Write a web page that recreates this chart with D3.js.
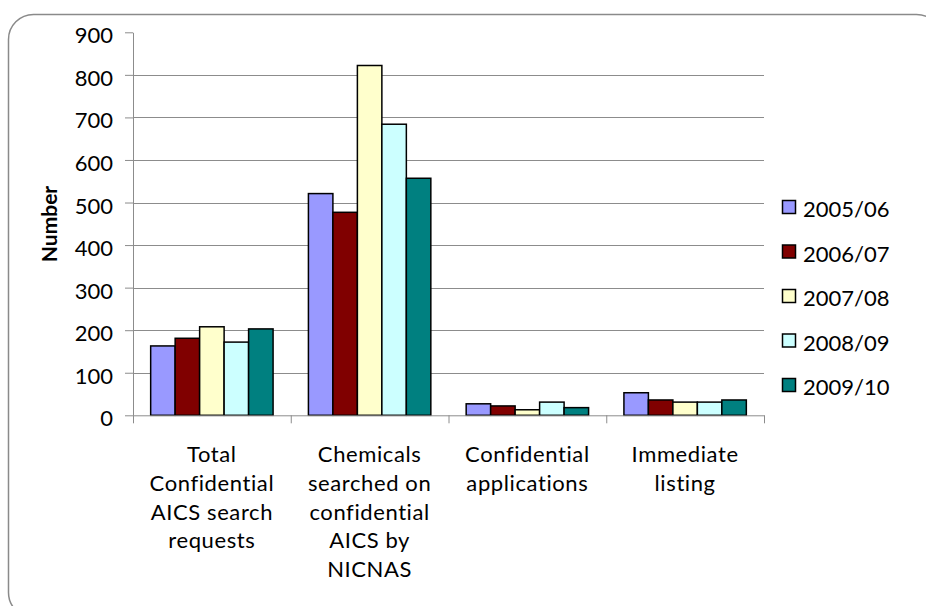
<!DOCTYPE html>
<html>
<head>
<meta charset="utf-8">
<script src="https://cdn.jsdelivr.net/npm/d3@7"></script>
<style>
  html, body { margin: 0; padding: 0; background: #fff; }
  svg { display: block; font-family: Lato, "Open Sans", sans-serif; }
</style>
</head>
<body>
<svg id="chart" width="926" height="606"></svg>
<script>
const categories = [
  ["Total", "Confidential", "AICS search", "requests"],
  ["Chemicals", "searched on", "confidential", "AICS by", "NICNAS"],
  ["Confidential", "applications"],
  ["Immediate", "listing"]
];
const seriesNames = ["2005/06", "2006/07", "2007/08", "2008/09", "2009/10"];
const seriesColors = ["#9999FF", "#800000", "#FFFFCC", "#CCFFFF", "#008080"];
const s2005 = [163, 521, 27, 53];
const s2006 = [181, 477, 22, 36];
const s2007 = [208, 822, 13, 31];
const s2008 = [172, 684, 31, 31];
const s2009 = [203, 557, 18, 36];
const yTicks = [0, 100, 200, 300, 400, 500, 600, 700, 800, 900];

const seriesValues = [s2005, s2006, s2007, s2008, s2009];
const svg = d3.select("#chart");

// rounded frame
svg.append("rect")
  .attr("x", 8.5).attr("y", 14.5)
  .attr("width", 933).attr("height", 603)
  .attr("rx", 25).attr("ry", 25)
  .attr("fill", "none").attr("stroke", "#8a8a8a").attr("stroke-width", 1.5);

const plotL = 133, plotR = 764, plotT = 32.3, plotB = 415.3;
const catIdx = d3.range(categories.length);

const x0 = d3.scaleBand().domain(catIdx).range([plotL, plotR]).padding(0);
const bw = x0.bandwidth();
const x1 = d3.scaleBand().domain(d3.range(seriesNames.length))
  .range([bw * 0.112, bw * 0.888]).padding(0);
const y = d3.scaleLinear().domain([0, 900]).range([plotB, plotT]);
const xb = d3.scaleLinear().domain([0, categories.length]).range([plotL, plotR]);

// gridlines
svg.append("g").selectAll("line")
  .data(yTicks.filter(t => t > 0 && t < 900))
  .join("line")
  .attr("x1", plotL).attr("x2", plotR)
  .attr("y1", d => Math.round(y(d)) + 0.5).attr("y2", d => Math.round(y(d)) + 0.5)
  .attr("stroke", "#8c8c8c").attr("stroke-width", 1);

// bars
const groups = svg.append("g").selectAll("g")
  .data(catIdx).join("g")
  .attr("transform", c => `translate(${x0(c)},0)`);
groups.selectAll("rect")
  .data(c => seriesValues.map((s, i) => ({ i, v: s[c] })))
  .join("rect")
  .attr("x", d => x1(d.i))
  .attr("width", x1.bandwidth())
  .attr("y", d => y(d.v))
  .attr("height", d => y(0) - y(d.v))
  .attr("fill", d => seriesColors[d.i])
  .attr("stroke", "#000").attr("stroke-width", 1.5);

// y axis
const yAxis = svg.append("g")
  .attr("transform", `translate(${plotL},0)`)
  .call(d3.axisLeft(y).tickValues(yTicks).tickSize(8).tickSizeOuter(0).tickPadding(12));
yAxis.select(".domain").attr("stroke", "#8c8c8c");
yAxis.selectAll(".tick line").attr("stroke", "#8c8c8c");
yAxis.selectAll(".tick text")
  .attr("font-size", 22).attr("fill", "#000").attr("dy", "0.48em")
  .style("font-family", "Lato, sans-serif");

// x axis (baseline + category boundary ticks)
const xAxis = svg.append("g")
  .attr("transform", `translate(0,${plotB})`)
  .call(d3.axisBottom(xb).tickValues(d3.range(categories.length + 1))
    .tickFormat("").tickSize(8).tickSizeOuter(0));
xAxis.select(".domain").attr("stroke", "#8c8c8c");
xAxis.selectAll(".tick line").attr("stroke", "#8c8c8c");

// category labels
const labels = svg.append("g").selectAll("text")
  .data(catIdx).join("text")
  .attr("x", c => x0(c) + bw / 2)
  .attr("y", plotB + 47)
  .attr("text-anchor", "middle")
  .attr("font-size", 22)
  .attr("letter-spacing", 0.6)
  .attr("fill", "#000");
labels.selectAll("tspan")
  .data(c => categories[c].map(t => ({ t, c })))
  .join("tspan")
  .attr("x", d => x0(d.c) + bw / 2)
  .attr("dy", (d, i) => i === 0 ? 0 : 28.7)
  .text(d => d.t);

// y axis title
svg.append("text")
  .attr("transform", "translate(57,224) rotate(-90)")
  .attr("text-anchor", "middle")
  .attr("font-size", 21)
  .attr("font-weight", "bold")
  .attr("fill", "#000")
  .text("Number");

// legend
const legend = svg.append("g").selectAll("g")
  .data(seriesNames).join("g")
  .attr("transform", (d, i) => `translate(0,${217 + i * 44.5})`);
legend.append("rect")
  .attr("x", 782.5).attr("y", -16.5)
  .attr("width", 13).attr("height", 13)
  .attr("fill", (d, i) => seriesColors[i])
  .attr("stroke", "#000").attr("stroke-width", 1.5);
legend.append("text")
  .attr("x", 803).attr("y", 0)
  .attr("font-size", 22)
  .attr("fill", "#000")
  .text(d => d);
</script>
</body>
</html>
